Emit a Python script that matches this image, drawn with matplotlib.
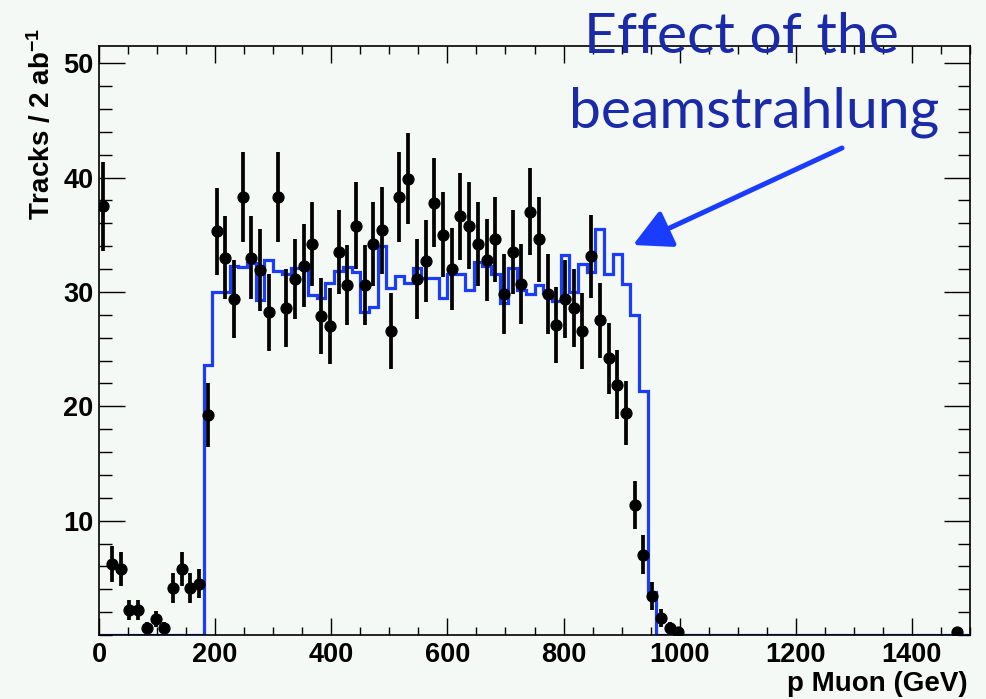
"""Muon momentum spectrum: measured tracks vs. simulation, with beamstrahlung note."""
import numpy as np
import matplotlib
matplotlib.use("Agg")
import matplotlib.pyplot as plt
from matplotlib.patches import FancyArrowPatch
from matplotlib.ticker import MultipleLocator, FixedLocator

BG = "#f4f9f6"
MC_BLUE = "#1a3cff"
NOTE_BLUE = "#1a2aa8"

plt.rcParams["font.family"] = ["Liberation Sans", "DejaVu Sans"]
plt.rcParams["mathtext.fontset"] = "custom"
plt.rcParams["mathtext.rm"] = "Liberation Sans:bold"
plt.rcParams["mathtext.default"] = "rm"

# 100 bins of 15 GeV between 0 and 1500 GeV
BIN_WIDTH = 15.0
P_MIN, P_MAX = 0.0, 1500.0

# reconstructed tracks (filled bins only), bin centres in GeV
data_p = [
    7.5, 22.5, 37.5, 52.5, 67.5, 82.5, 97.5, 112.5, 127.5, 142.5,
    157.5, 172.5, 187.5, 202.5, 217.5, 232.5, 247.5, 262.5, 277.5, 292.5,
    307.5, 322.5, 337.5, 352.5, 367.5, 382.5, 397.5, 412.5, 427.5, 442.5,
    457.5, 472.5, 487.5, 502.5, 517.5, 532.5, 547.5, 562.5, 577.5, 592.5,
    607.5, 622.5, 637.5, 652.5, 667.5, 682.5, 697.5, 712.5, 727.5, 742.5,
    757.5, 772.5, 787.5, 802.5, 817.5, 832.5, 847.5, 862.5, 877.5, 892.5,
    907.5, 922.5, 937.5, 952.5, 967.5, 982.5, 997.5, 1477.5,
]
data_tracks = [
    37.5, 6.2, 5.8, 2.2, 2.2, 0.6, 1.4, 0.6, 4.1, 5.8,
    4.1, 4.5, 19.2, 35.3, 33.0, 29.4, 38.3, 33.0, 31.9, 28.2,
    38.3, 28.6, 31.1, 32.3, 34.2, 27.9, 27.0, 33.5, 30.6, 35.8,
    30.6, 34.2, 35.4, 26.6, 38.3, 39.9, 31.1, 32.7, 37.8, 35.0,
    32.0, 36.6, 35.8, 34.2, 32.8, 34.6, 29.8, 33.5, 30.7, 37.0,
    34.6, 29.8, 27.1, 29.4, 28.6, 26.6, 33.1, 27.5, 24.2, 21.9,
    19.4, 11.4, 7.0, 3.4, 1.5, 0.6, 0.3, 0.3,
]
data_err = [
    3.9, 1.6, 1.5, 0.9, 0.9, 0.5, 0.7, 0.5, 1.3, 1.5,
    1.3, 1.3, 2.8, 3.8, 3.6, 3.4, 3.9, 3.6, 3.6, 3.4,
    3.9, 3.4, 3.5, 3.6, 3.7, 3.3, 3.3, 3.7, 3.5, 3.8,
    3.5, 3.7, 3.8, 3.3, 3.9, 4.0, 3.5, 3.6, 3.9, 3.7,
    3.6, 3.8, 3.8, 3.7, 3.6, 3.7, 3.5, 3.7, 3.5, 3.8,
    3.7, 3.5, 3.3, 3.4, 3.4, 3.3, 3.6, 3.3, 3.1, 3.0,
    2.8, 2.1, 1.7, 1.2, 0.8, 0.5, 0.3, 0.3,
]

# simulated spectrum without beamstrahlung, bins starting at 180 GeV
mc_first_edge = 180.0
mc_tracks = [
    23.6, 30.0, 30.0, 32.3, 32.2, 32.5, 29.3, 32.75, 31.85, 31.6,
    32.1, 32.1, 29.75, 29.5, 30.8, 31.8, 32.2, 31.7, 28.2, 28.7,
    34.0, 30.3, 31.35, 30.8, 32.1, 31.2, 31.2, 29.5, 31.6, 31.6,
    30.2, 32.6, 32.3, 31.6, 29.0, 32.1, 30.2, 29.8, 30.6, 29.9,
    29.2, 33.2, 30.0, 32.4, 31.7, 35.5, 31.6, 33.3, 30.7, 28.0,
    21.3, 3.8,
]

edges = np.arange(P_MIN, P_MAX + BIN_WIDTH / 2, BIN_WIDTH)
mc_full = np.zeros(len(edges) - 1)
first = int(round(mc_first_edge / BIN_WIDTH))
mc_full[first:first + len(mc_tracks)] = mc_tracks

fig = plt.figure(figsize=(9.86, 6.99), dpi=100, facecolor=BG)
ax = fig.add_axes([99 / 986, 1 - 635 / 699, (970 - 99) / 986, (635 - 46) / 699])
ax.set_facecolor(BG)

ax.stairs(mc_full, edges, color=MC_BLUE, lw=2.3, zorder=2)
ax.errorbar(data_p, data_tracks, yerr=data_err, fmt="o", color="black",
            ms=7.8, elinewidth=2.7, capsize=0, zorder=3)

ax.set_xlim(P_MIN, P_MAX)
ax.set_ylim(0, 51.5)

ax.xaxis.set_major_locator(MultipleLocator(200))
ax.xaxis.set_minor_locator(MultipleLocator(50))
ax.yaxis.set_major_locator(FixedLocator([10, 20, 30, 40, 50]))
ax.yaxis.set_minor_locator(MultipleLocator(2))

ax.tick_params(which="both", direction="in", top=True, right=True, width=1.0, color="black")
ax.tick_params(axis="x", which="major", length=12, pad=5)
ax.tick_params(axis="x", which="minor", length=6)
ax.tick_params(axis="y", which="major", length=19, pad=4)
ax.tick_params(axis="y", which="minor", length=9)
for lbl in ax.get_xticklabels() + ax.get_yticklabels():
    lbl.set_fontsize(19.5)
    lbl.set_fontweight("bold")
for sp in ax.spines.values():
    sp.set_linewidth(1.2)

fig.text(968 / 986, 1 - 684 / 699, "p Muon (GeV)", ha="right", va="center",
         fontsize=20, fontweight="bold")
fig.text(42 / 986, 1 - 28 / 699, r"Tracks / 2 ab$^{-1}$", rotation=90,
         ha="center", va="top", fontsize=20, fontweight="bold")

# note on the shifted high-momentum edge
fig.text(741 / 986, 1 - 53 / 699, "Effect of the", ha="center", va="baseline",
         fontsize=41, family="Lato", color=NOTE_BLUE, zorder=10)
fig.text(754 / 986, 1 - 128 / 699, "beamstrahlung", ha="center", va="baseline",
         fontsize=41, family="Lato", color=NOTE_BLUE, zorder=10)
arrow = FancyArrowPatch((842 / 986, 1 - 148 / 699), (633 / 986, 1 - 245 / 699),
                        transform=fig.transFigure,
                        arrowstyle="-|>,head_length=23,head_width=12",
                        mutation_scale=1, lw=3.6, color=MC_BLUE,
                        shrinkA=0, shrinkB=0, zorder=10)
fig.add_artist(arrow)

fig.savefig("out.png", dpi=100, facecolor=BG)
